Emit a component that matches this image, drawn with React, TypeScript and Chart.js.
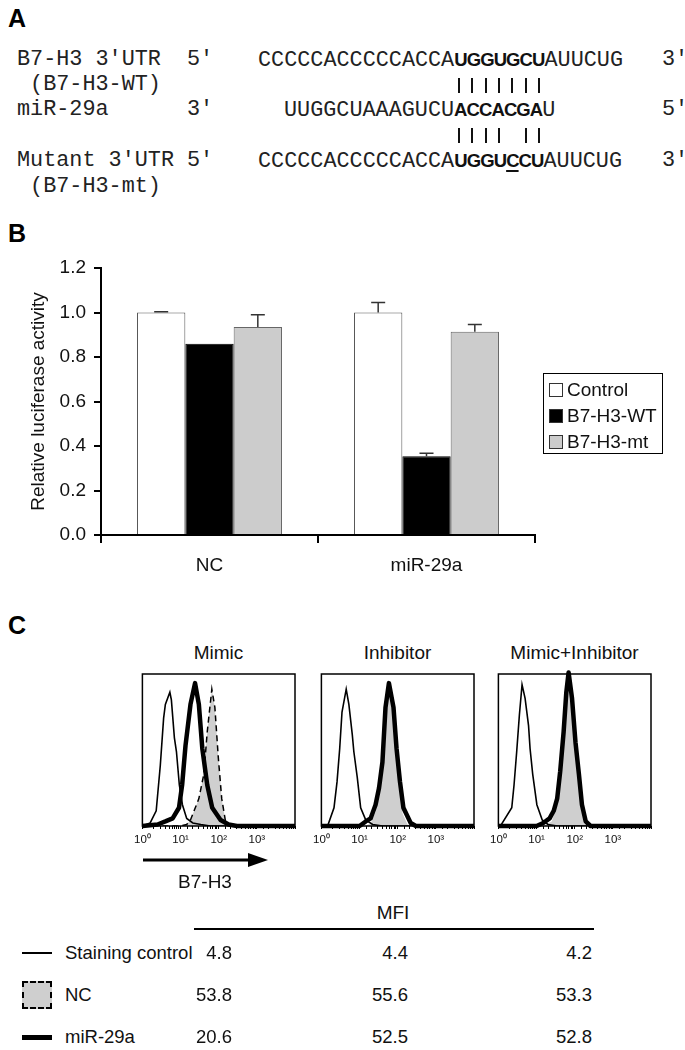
import React, { useEffect, useRef } from 'react';
import { Chart, registerables } from 'chart.js';
Chart.register(...registerables);

const SANS = "'Liberation Sans', Arial, Helvetica, sans-serif";
const MONO = "'Liberation Mono', 'Courier New', monospace";

// ---------- Panel A (sequences) ----------
const WT_SEQ = ['CCCCCACCCCCACCA', 'UGGUGCU', 'AUUCUG'];
const MIR_SEQ = ['UUGGCUAAAGUCU', 'ACCACGA', 'U'];
const MT_SEQ = ['CCCCCACCCCCACCA', 'UGGU', 'C', 'CU', 'AUUCUG'];
const WT_PAIRS = [1, 1, 1, 1, 1, 1, 1];
const MT_PAIRS = [1, 1, 1, 1, 0, 1, 1];

// ---------- Panel B (luciferase) ----------
const GROUPS = ['NC', 'miR-29a'];
const SERIES = ['Control', 'B7-H3-WT', 'B7-H3-mt'];
const CONTROL_VALUES = [1.0, 1.0];
const WT_VALUES = [0.86, 0.354];
const MT_VALUES = [0.935, 0.914];
const CONTROL_ERRORS = [0.003, 0.045];
const WT_ERRORS = [0, 0.013];
const MT_ERRORS = [0.055, 0.032];

// ---------- Panel C (flow histograms) ----------
const PANEL_TITLES = ['Mimic', 'Inhibitor', 'Mimic+Inhibitor'];
const LOG_TICK_LABELS = ['10\u2070', '10\u00B9', '10\u00B2', '10\u00B3'];
// [fluorescence intensity, % of max count]
const MIMIC_STAIN: number[][] = [[1, 0], [1.6, 2], [2.3, 10], [2.95, 40], [3.6, 71], [4, 80], [5.25, 88], [5.75, 83], [6.9, 58], [7.8, 49], [9.3, 27], [11.2, 14], [14.5, 5], [21, 2], [34, 1], [60, 0], [10000, 0]];
const MIMIC_NC: number[][] = [[1, 0], [10, 0], [14.5, 1], [18.2, 4], [30.2, 18], [40.7, 34], [50.1, 62], [66.1, 90], [79.4, 78], [97.7, 45], [120, 18], [151, 3], [200, 0], [10000, 0]];
const MIMIC_MIR: number[][] = [[1, 0], [2.5, 1], [4, 3], [6.2, 5], [9.1, 12], [11, 27], [13.5, 53], [18.2, 80], [24, 94], [30.2, 80], [37.2, 51], [50.1, 27], [67.6, 12], [112, 4], [182, 1], [300, 0], [10000, 0]];
const INH_STAIN: number[][] = [[1, 0], [1.5, 1], [2.14, 12], [2.57, 29], [3.02, 51], [3.47, 75], [4.47, 90], [5.25, 80], [6.46, 60], [7.08, 49], [8.71, 32], [10.7, 12], [14.5, 4], [22, 1], [40, 0], [10000, 0]];
const INH_NC: number[][] = [[1, 0], [14, 0], [20, 2], [27, 10], [33, 20], [40, 38], [48, 72], [59, 89], [76, 74], [92, 46], [112, 24], [135, 8], [180, 1], [250, 0], [10000, 0]];
const INH_MIR: number[][] = [[1, 0], [10, 0], [14.5, 3], [19.5, 5], [26.3, 14], [32.4, 25], [39.8, 42], [47.9, 78], [58.9, 94], [77.6, 78], [93.3, 51], [115, 29], [141, 12], [219, 2], [300, 0], [10000, 0]];
const MI_STAIN: number[][] = [[1, 0], [1.2, 1], [2.24, 12], [2.57, 27], [3.02, 49], [3.55, 73], [4.17, 93], [5.01, 84], [6.17, 66], [6.76, 51], [7.94, 34], [10.2, 14], [14.1, 4], [20, 1], [35, 0], [10000, 0]];
const MI_NC: number[][] = [[1, 0], [15, 0], [25, 3], [35, 14], [42, 32], [52, 58], [61, 82], [69, 93], [84, 78], [103, 50], [125, 28], [150, 10], [185, 2], [240, 0], [10000, 0]];
const MI_MIR: number[][] = [[1, 0], [10, 0], [15, 2], [22, 5], [28.2, 10], [34.7, 18], [41.7, 36], [51.3, 62], [60.3, 88], [69.2, 101], [85.1, 84], [105, 55], [129, 34], [155, 14], [195, 3], [260, 0], [10000, 0]];

const LEGEND_ROWS = ['Staining control', 'NC', 'miR-29a'];
const MFI_STAIN = [4.8, 4.4, 4.2];
const MFI_NC = [53.8, 55.6, 53.3];
const MFI_MIR = [20.6, 52.5, 52.8];

type Pos = React.CSSProperties;

function T(props: { x: number; y: number; h?: number; align?: 'left' | 'center' | 'right'; style?: Pos; children: React.ReactNode }) {
  const h = props.h ?? 26;
  const s: Pos = {
    position: 'absolute',
    top: props.y - h / 2,
    height: h,
    lineHeight: h + 'px',
    whiteSpace: 'pre',
    color: '#111',
    ...props.style,
  };
  if (props.align === 'center') {
    s.left = props.x;
    s.transform = 'translateX(-50%)';
  } else if (props.align === 'right') {
    s.right = 685 - props.x;
  } else {
    s.left = props.x;
  }
  return <div style={s}>{props.children}</div>;
}

function BarChart() {
  const ref = useRef<HTMLCanvasElement>(null);
  useEffect(() => {
    if (!ref.current) return;
    const errs = [CONTROL_ERRORS, WT_ERRORS, MT_ERRORS];
    const errorBars = {
      id: 'errorBars',
      afterDatasetsDraw(chart: any) {
        const ctx = chart.ctx;
        const y = chart.scales.y;
        ctx.save();
        ctx.strokeStyle = '#333';
        ctx.lineWidth = 1.5;
        chart.data.datasets.forEach((ds: any, i: number) => {
          const meta = chart.getDatasetMeta(i);
          meta.data.forEach((bar: any, j: number) => {
            const e = errs[i][j];
            if (!e) return;
            const v = ds.data[j];
            const top = y.getPixelForValue(v + e);
            const base = y.getPixelForValue(v);
            ctx.beginPath();
            ctx.moveTo(bar.x, base);
            ctx.lineTo(bar.x, top);
            ctx.moveTo(bar.x - 7, top);
            ctx.lineTo(bar.x + 7, top);
            ctx.stroke();
          });
        });
        ctx.restore();
      },
    };
    const chart = new Chart(ref.current, {
      type: 'bar',
      data: {
        labels: GROUPS,
        datasets: [
          { label: SERIES[0], data: CONTROL_VALUES, backgroundColor: '#ffffff', borderColor: '#555', borderWidth: 1, categoryPercentage: 0.668, barPercentage: 1 },
          { label: SERIES[1], data: WT_VALUES, backgroundColor: '#000000', borderColor: '#000', borderWidth: 1, categoryPercentage: 0.668, barPercentage: 1 },
          { label: SERIES[2], data: MT_VALUES, backgroundColor: '#cccccc', borderColor: '#666', borderWidth: 1, categoryPercentage: 0.668, barPercentage: 1 },
        ],
      },
      options: {
        animation: false,
        responsive: false,
        maintainAspectRatio: false,
        layout: { padding: { left: 0, right: 150, top: 28, bottom: 0 } },
        plugins: { legend: { display: false }, tooltip: { enabled: false } },
        scales: {
          x: {
            grid: { offset: true, drawOnChartArea: false, drawTicks: true, tickLength: 8, color: '#000', lineWidth: 2 },
            border: { display: true, color: '#000', width: 2 },
            ticks: { color: '#111', font: { family: SANS, size: 19 }, padding: 11 },
            afterFit: (s: any) => { s.height = 65; },
          },
          y: {
            min: 0,
            max: 1.2,
            ticks: { stepSize: 0.2, callback: (v: any) => Number(v).toFixed(1), color: '#111', font: { family: SANS, size: 19 }, padding: 8 },
            grid: { drawOnChartArea: false, drawTicks: true, tickLength: 7, color: '#000', lineWidth: 2 },
            border: { display: true, color: '#000', width: 2 },
            title: { display: true, text: 'Relative luciferase activity', color: '#111', font: { family: SANS, size: 19 }, padding: { top: 27, bottom: 0 } },
            afterFit: (s: any) => { s.width = 101; },
          },
        },
      } as any,
      plugins: [errorBars],
    });
    return () => chart.destroy();
  }, []);
  return <canvas ref={ref} width={685} height={360} style={{ position: 'absolute', left: 0, top: 240 }} />;
}

function HistBox(props: { left: number; stain: number[][]; nc: number[][]; mir: number[][]; dashed: boolean }) {
  const ref = useRef<HTMLCanvasElement>(null);
  useEffect(() => {
    if (!ref.current) return;
    const frame = {
      id: 'frame',
      afterDraw(chart: any) {
        const a = chart.chartArea;
        const ctx = chart.ctx;
        ctx.save();
        ctx.strokeStyle = '#000';
        ctx.lineWidth = 1.5;
        ctx.strokeRect(a.left, a.top, a.right - a.left, a.bottom - a.top);
        ctx.restore();
      },
    };
    const toXY = (arr: number[][]) => arr.map(([x, y]) => ({ x, y }));
    const chart = new Chart(ref.current, {
      type: 'line',
      data: {
        datasets: [
          { data: toXY(props.mir), borderColor: '#000', borderWidth: 4.5, borderJoinStyle: 'round', pointRadius: 0, fill: false, tension: 0, clip: false },
          { data: toXY(props.stain), borderColor: '#000', borderWidth: 1.6, pointRadius: 0, fill: false, tension: 0 },
          {
            data: toXY(props.nc),
            borderColor: '#000',
            borderWidth: props.dashed ? 1.5 : 0,
            borderDash: [6, 4],
            backgroundColor: '#cfcfcf',
            pointRadius: 0,
            fill: 'origin',
            tension: 0,
          },
        ],
      },
      options: {
        animation: false,
        responsive: false,
        maintainAspectRatio: false,
        layout: { padding: { left: 12, right: 12, top: 4, bottom: 0 } },
        plugins: { legend: { display: false }, tooltip: { enabled: false } },
        scales: {
          x: {
            type: 'logarithmic',
            min: 1,
            max: 10000,
            border: { display: false },
            grid: { drawOnChartArea: false, drawTicks: true, tickLength: 3, color: '#000', lineWidth: 1 },
            ticks: {
              autoSkip: false,
              maxRotation: 0,
              padding: 4,
              color: '#111',
              font: { family: SANS, size: 11.5 },
              callback: (v: any) => {
                const e = Math.log10(Number(v));
                const r = Math.round(e);
                if (Math.abs(e - r) < 1e-9 && r < LOG_TICK_LABELS.length) return LOG_TICK_LABELS[r];
                return '';
              },
            },
            afterFit: (s: any) => { s.height = 26; },
          },
          y: { display: false, min: 0, max: 100 },
        },
      } as any,
      plugins: [frame],
    });
    return () => chart.destroy();
  }, []);
  return <canvas ref={ref} width={177} height={182} style={{ position: 'absolute', left: props.left - 12, top: 670 }} />;
}

export default function App() {
  const mono: Pos = { fontFamily: MONO, fontSize: 21.8, color: '#222' };
  const bold: Pos = { fontFamily: SANS, fontSize: 18.5, fontWeight: 'bold', letterSpacing: '-0.9px', color: '#111' };
  const sans19: Pos = { fontFamily: SANS, fontSize: 19 };
  const panelLbl: Pos = { fontFamily: SANS, fontSize: 25, fontWeight: 'bold', color: '#000' };
  const pairX0 = 459;
  const pitch = 13.3;
  const boxLefts = [142, 321, 498];
  const boxW = 153;
  const colRights = [232, 408, 592];
  const rowY = [953, 995, 1037];
  return (
    <div style={{ position: 'absolute', left: 0, top: 0, width: 685, height: 1050, background: '#fff', overflow: 'hidden' }}>
      {/* Panel A */}
      <T x={8} y={18} h={30} style={panelLbl}>A</T>
      <T x={17} y={60} style={mono}>{'B7-H3 3\u2032UTR  5\u2032'}</T>
      <T x={17} y={85} style={mono}>{' (B7-H3-WT)'}</T>
      <T x={17} y={110} style={mono}>{'miR-29a      3\u2032'}</T>
      <T x={17} y={161} style={mono}>{'Mutant 3\u2032UTR 5\u2032'}</T>
      <T x={17} y={187} style={mono}>{' (B7-H3-mt)'}</T>
      <T x={258} y={60} style={mono}>
        {WT_SEQ[0]}<span style={bold}>{WT_SEQ[1]}</span>{WT_SEQ[2]}
      </T>
      <T x={284} y={110} style={mono}>
        {MIR_SEQ[0]}<span style={bold}>{MIR_SEQ[1]}</span>{MIR_SEQ[2]}
      </T>
      <T x={258} y={161} style={mono}>
        {MT_SEQ[0]}
        <span style={bold}>{MT_SEQ[1]}</span>
        <span style={{ ...bold, textDecoration: 'underline', textDecorationThickness: '2px', textUnderlineOffset: '3px' }}>{MT_SEQ[2]}</span>
        <span style={bold}>{MT_SEQ[3]}</span>
        {MT_SEQ[4]}
      </T>
      <T x={662} y={60} style={mono}>{'3\u2032'}</T>
      <T x={662} y={110} style={mono}>{'5\u2032'}</T>
      <T x={662} y={161} style={mono}>{'3\u2032'}</T>
      {WT_PAIRS.map((p, k) => p ? <div key={'w' + k} style={{ position: 'absolute', left: pairX0 + k * pitch - 1, top: 78, width: 2, height: 15, background: '#111' }} /> : null)}
      {MT_PAIRS.map((p, k) => p ? <div key={'m' + k} style={{ position: 'absolute', left: pairX0 + k * pitch - 1, top: 128, width: 2, height: 15, background: '#111' }} /> : null)}

      {/* Panel B */}
      <T x={8} y={233} h={30} style={panelLbl}>B</T>
      <BarChart />
      <div style={{ position: 'absolute', left: 543, top: 373, width: 118, height: 79, border: '1.5px solid #000', background: '#fff' }} />
      {SERIES.map((s, i) => {
        const y = [390, 416, 442][i];
        const fills = ['#ffffff', '#000000', '#cccccc'];
        return (
          <React.Fragment key={s}>
            <div style={{ position: 'absolute', left: 549, top: y - 7, width: 12, height: 12, background: fills[i], border: '1px solid #333' }} />
            <T x={567} y={y} style={sans19}>{s}</T>
          </React.Fragment>
        );
      })}

      {/* Panel C */}
      <T x={8} y={625} h={30} style={panelLbl}>C</T>
      {PANEL_TITLES.map((t, i) => (
        <T key={t} x={boxLefts[i] + boxW / 2} y={653} align="center" style={sans19}>{t}</T>
      ))}
      <HistBox left={boxLefts[0]} stain={MIMIC_STAIN} nc={MIMIC_NC} mir={MIMIC_MIR} dashed={true} />
      <HistBox left={boxLefts[1]} stain={INH_STAIN} nc={INH_NC} mir={INH_MIR} dashed={false} />
      <HistBox left={boxLefts[2]} stain={MI_STAIN} nc={MI_NC} mir={MI_MIR} dashed={false} />
      <svg style={{ position: 'absolute', left: 140, top: 850 }} width={140} height={20}>
        <line x1={3} y1={10} x2={112} y2={10} stroke="#000" strokeWidth={3} />
        <polygon points="108,3 128,10 108,17" fill="#000" />
      </svg>
      <T x={205} y={882} align="center" style={sans19}>B7-H3</T>
      <T x={393} y={913} align="center" style={sans19}>MFI</T>
      <div style={{ position: 'absolute', left: 194, top: 928, width: 400, height: 1.5, background: '#000' }} />
      {/* legend icons */}
      <div style={{ position: 'absolute', left: 22, top: rowY[0] - 1, width: 30, height: 1.5, background: '#000' }} />
      <div style={{ position: 'absolute', left: 22, top: rowY[1] - 14, width: 26, height: 24, background: '#cfcfcf', border: '2px dashed #000' }} />
      <div style={{ position: 'absolute', left: 22, top: rowY[2] - 2.5, width: 30, height: 5, background: '#000' }} />
      {LEGEND_ROWS.map((r, i) => (
        <T key={r} x={65} y={rowY[i]} style={{ fontFamily: SANS, fontSize: 18.5 }}>{r}</T>
      ))}
      {[MFI_STAIN, MFI_NC, MFI_MIR].map((row, i) =>
        row.map((v, j) => (
          <T key={i + '-' + j} x={colRights[j]} y={rowY[i]} align="right" style={{ fontFamily: SANS, fontSize: 18.5 }}>{v.toFixed(1)}</T>
        ))
      )}
    </div>
  );
}
